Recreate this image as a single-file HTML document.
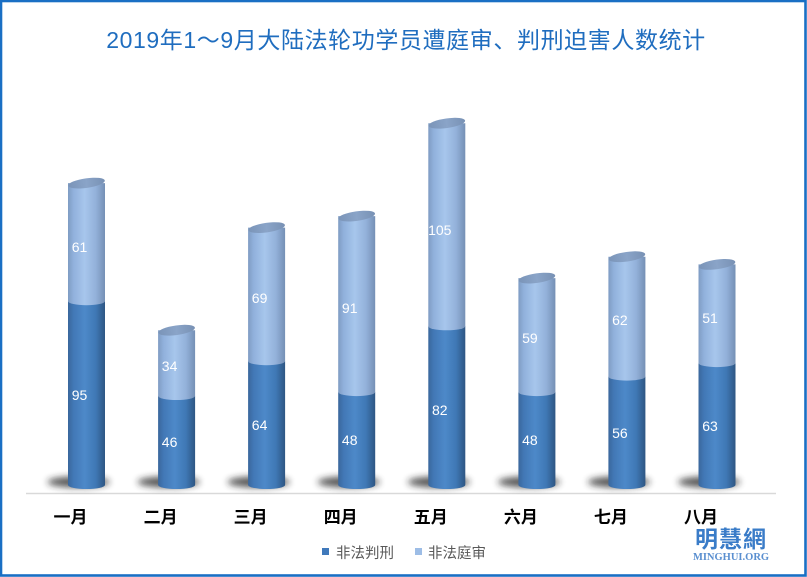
<!DOCTYPE html>
<html>
<head>
<meta charset="utf-8">
<style>
html,body{margin:0;padding:0;background:#fff;}
body{width:807px;height:577px;overflow:hidden;}
svg{display:block;}
</style>
</head>
<body>
<svg width="807" height="577" viewBox="0 0 807 577" xmlns="http://www.w3.org/2000/svg">
<defs>
  <linearGradient id="lg" x1="0" y1="0" x2="1" y2="0">
    <stop offset="0" stop-color="#3a679c"/>
    <stop offset="0.15" stop-color="#4278b6"/>
    <stop offset="0.45" stop-color="#4d89c9"/>
    <stop offset="0.75" stop-color="#3f78b5"/>
    <stop offset="1" stop-color="#2e5683"/>
  </linearGradient>
  <linearGradient id="ug" x1="0" y1="0" x2="1" y2="0">
    <stop offset="0" stop-color="#7f9cc3"/>
    <stop offset="0.15" stop-color="#91b1dc"/>
    <stop offset="0.45" stop-color="#a7c6ec"/>
    <stop offset="0.75" stop-color="#93b1da"/>
    <stop offset="1" stop-color="#7590b5"/>
  </linearGradient>
  <linearGradient id="cg" x1="0" y1="0" x2="1" y2="0">
    <stop offset="0" stop-color="#7a94b8"/>
    <stop offset="0.5" stop-color="#8aa4c8"/>
    <stop offset="1" stop-color="#7891b4"/>
  </linearGradient>
  <filter id="blur" x="-50%" y="-100%" width="200%" height="300%">
    <feGaussianBlur stdDeviation="3.5"/>
  </filter>
</defs>

<!-- frame -->
<rect x="1" y="1" width="804.5" height="574.5" fill="none" stroke="#1a6fc4" stroke-width="2.6"/>

<!-- title -->
<text x="406" y="48" text-anchor="middle" font-family="'Liberation Sans','Noto Sans CJK SC',sans-serif" font-size="23" letter-spacing="0.6" fill="#1f6dbf">2019年1～9月大陆法轮功学员遭庭审、判刑迫害人数统计</text>

<!-- axis line -->
<line x1="26" y1="493.5" x2="776" y2="493.5" stroke="#d9d9d9" stroke-width="1.5"/>

<!-- bars -->
<g>
  <g transform="translate(86.5,0)">
    <ellipse cx="-8" cy="482" rx="31" ry="5.5" fill="#222" opacity="0.75" filter="url(#blur)"/>
    <path d="M-18.5,301.2 L-18.5,485 A18.5,4 0 0 0 18.5,485 L18.5,301.2 Z" fill="url(#lg)"/>
    <path d="M-18.5,183.1 L-18.5,301.2 A18.5,4 0 0 0 18.5,301.2 L18.5,183.1 Z" fill="url(#ug)"/>
    <ellipse cx="0" cy="183.1" rx="18.5" ry="4.8" transform="rotate(-8 0 183.1)" fill="url(#cg)"/>
  </g>
  <g transform="translate(176.6,0)">
    <ellipse cx="-8" cy="482" rx="31" ry="5.5" fill="#222" opacity="0.75" filter="url(#blur)"/>
    <path d="M-18.5,396 L-18.5,485 A18.5,4 0 0 0 18.5,485 L18.5,396 Z" fill="url(#lg)"/>
    <path d="M-18.5,330.2 L-18.5,396 A18.5,4 0 0 0 18.5,396 L18.5,330.2 Z" fill="url(#ug)"/>
    <ellipse cx="0" cy="330.2" rx="18.5" ry="4.8" transform="rotate(-8 0 330.2)" fill="url(#cg)"/>
  </g>
  <g transform="translate(266.6,0)">
    <ellipse cx="-8" cy="482" rx="31" ry="5.5" fill="#222" opacity="0.75" filter="url(#blur)"/>
    <path d="M-18.5,361.2 L-18.5,485 A18.5,4 0 0 0 18.5,485 L18.5,361.2 Z" fill="url(#lg)"/>
    <path d="M-18.5,227.6 L-18.5,361.2 A18.5,4 0 0 0 18.5,361.2 L18.5,227.6 Z" fill="url(#ug)"/>
    <ellipse cx="0" cy="227.6" rx="18.5" ry="4.8" transform="rotate(-8 0 227.6)" fill="url(#cg)"/>
  </g>
  <g transform="translate(356.7,0)">
    <ellipse cx="-8" cy="482" rx="31" ry="5.5" fill="#222" opacity="0.75" filter="url(#blur)"/>
    <path d="M-18.5,392.1 L-18.5,485 A18.5,4 0 0 0 18.5,485 L18.5,392.1 Z" fill="url(#lg)"/>
    <path d="M-18.5,216.1 L-18.5,392.1 A18.5,4 0 0 0 18.5,392.1 L18.5,216.1 Z" fill="url(#ug)"/>
    <ellipse cx="0" cy="216.1" rx="18.5" ry="4.8" transform="rotate(-8 0 216.1)" fill="url(#cg)"/>
  </g>
  <g transform="translate(446.8,0)">
    <ellipse cx="-8" cy="482" rx="31" ry="5.5" fill="#222" opacity="0.75" filter="url(#blur)"/>
    <path d="M-18.5,326.3 L-18.5,485 A18.5,4 0 0 0 18.5,485 L18.5,326.3 Z" fill="url(#lg)"/>
    <path d="M-18.5,123.2 L-18.5,326.3 A18.5,4 0 0 0 18.5,326.3 L18.5,123.2 Z" fill="url(#ug)"/>
    <ellipse cx="0" cy="123.2" rx="18.5" ry="4.8" transform="rotate(-8 0 123.2)" fill="url(#cg)"/>
  </g>
  <g transform="translate(536.9,0)">
    <ellipse cx="-8" cy="482" rx="31" ry="5.5" fill="#222" opacity="0.75" filter="url(#blur)"/>
    <path d="M-18.5,392.1 L-18.5,485 A18.5,4 0 0 0 18.5,485 L18.5,392.1 Z" fill="url(#lg)"/>
    <path d="M-18.5,278.1 L-18.5,392.1 A18.5,4 0 0 0 18.5,392.1 L18.5,278.1 Z" fill="url(#ug)"/>
    <ellipse cx="0" cy="278.1" rx="18.5" ry="4.8" transform="rotate(-8 0 278.1)" fill="url(#cg)"/>
  </g>
  <g transform="translate(626.9,0)">
    <ellipse cx="-8" cy="482" rx="31" ry="5.5" fill="#222" opacity="0.75" filter="url(#blur)"/>
    <path d="M-18.5,376.6 L-18.5,485 A18.5,4 0 0 0 18.5,485 L18.5,376.6 Z" fill="url(#lg)"/>
    <path d="M-18.5,256.7 L-18.5,376.6 A18.5,4 0 0 0 18.5,376.6 L18.5,256.7 Z" fill="url(#ug)"/>
    <ellipse cx="0" cy="256.7" rx="18.5" ry="4.8" transform="rotate(-8 0 256.7)" fill="url(#cg)"/>
  </g>
  <g transform="translate(717,0)">
    <ellipse cx="-8" cy="482" rx="31" ry="5.5" fill="#222" opacity="0.75" filter="url(#blur)"/>
    <path d="M-18.5,363.1 L-18.5,485 A18.5,4 0 0 0 18.5,485 L18.5,363.1 Z" fill="url(#lg)"/>
    <path d="M-18.5,264.4 L-18.5,363.1 A18.5,4 0 0 0 18.5,363.1 L18.5,264.4 Z" fill="url(#ug)"/>
    <ellipse cx="0" cy="264.4" rx="18.5" ry="4.8" transform="rotate(-8 0 264.4)" fill="url(#cg)"/>
  </g>
</g>

<!-- data labels -->
<g font-family="'Liberation Sans',sans-serif" font-size="14" fill="#ffffff" text-anchor="middle">
  <text x="79.5" y="252">61</text>
  <text x="79.5" y="400">95</text>
  <text x="169.6" y="371">34</text>
  <text x="169.6" y="447">46</text>
  <text x="259.6" y="303">69</text>
  <text x="259.6" y="430">64</text>
  <text x="349.7" y="313">91</text>
  <text x="349.7" y="445">48</text>
  <text x="439.8" y="235">105</text>
  <text x="439.8" y="415">82</text>
  <text x="529.9" y="343">59</text>
  <text x="529.9" y="445">48</text>
  <text x="619.9" y="325">62</text>
  <text x="619.9" y="438">56</text>
  <text x="710" y="323">51</text>
  <text x="710" y="431">63</text>
</g>

<!-- category labels -->
<g font-family="'Liberation Sans','Noto Sans CJK SC',sans-serif" font-size="17" font-weight="bold" fill="#000" text-anchor="middle">
  <text x="70.5" y="523">一月</text>
  <text x="160.6" y="523">二月</text>
  <text x="250.6" y="523">三月</text>
  <text x="340.7" y="523">四月</text>
  <text x="430.8" y="523">五月</text>
  <text x="520.9" y="523">六月</text>
  <text x="610.9" y="523">七月</text>
  <text x="701" y="523">八月</text>
</g>

<!-- legend -->
<rect x="322" y="548" width="7" height="7" fill="#4079bb"/>
<text x="336" y="558" font-family="'Liberation Sans','Noto Sans CJK SC',sans-serif" font-size="14.5" fill="#595959">非法判刑</text>
<rect x="415" y="548" width="7" height="7" fill="#9dbde6"/>
<text x="428" y="558" font-family="'Liberation Sans','Noto Sans CJK SC',sans-serif" font-size="14.5" fill="#595959">非法庭审</text>

<!-- watermark -->
<text x="731" y="547" text-anchor="middle" font-family="'Noto Sans CJK TC','Noto Sans CJK SC',sans-serif" font-size="23" font-weight="bold" letter-spacing="1" fill="#3a7cc8">明慧網</text>
<text x="731" y="560" text-anchor="middle" font-family="'Liberation Serif',serif" font-size="10.5" font-weight="bold" fill="#5a8fd0">MINGHUI.ORG</text>
</svg>
</body>
</html>
